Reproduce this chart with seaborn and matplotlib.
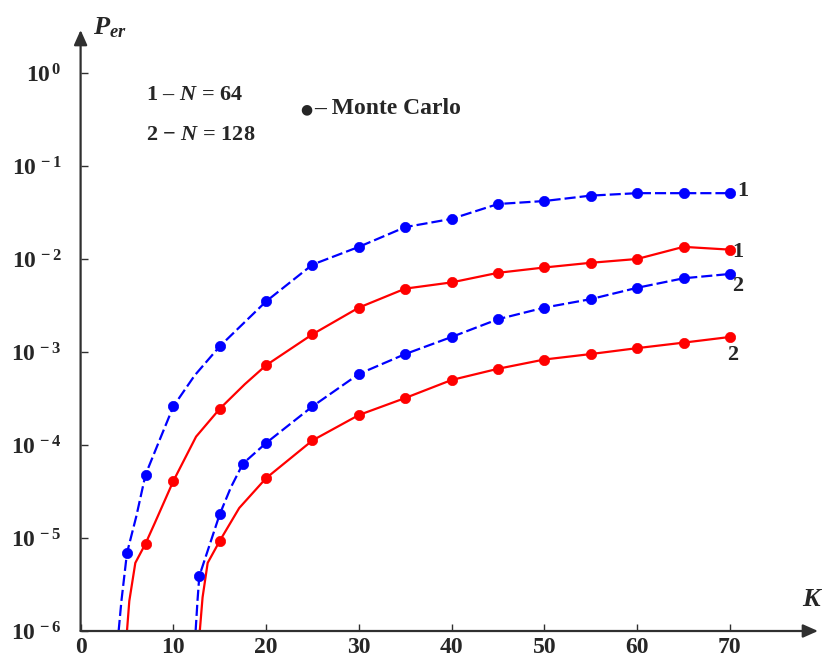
import numpy as np
import pandas as pd
import matplotlib
matplotlib.use("Agg")
import matplotlib.pyplot as plt
import seaborn as sns

# --- данные ---
# точки Монте-Карло, 1 - N = 64
k1_blue = [5, 7, 10, 15, 20, 25, 30, 35, 40, 45, 50, 55, 60, 65, 70]
p1_blue = [6.9e-6, 4.8e-5, 2.6e-4, 1.15e-3, 3.5e-3, 8.7e-3, 1.35e-2, 2.2e-2,
           2.7e-2, 3.9e-2, 4.2e-2, 4.8e-2, 5.1e-2, 5.1e-2, 5.1e-2]
k1_red = [7, 10, 15, 20, 25, 30, 35, 40, 45, 50, 55, 60, 65, 70]
p1_red = [8.7e-6, 4.1e-5, 2.45e-4, 7.2e-4, 1.55e-3, 3.0e-3, 4.8e-3, 5.6e-3,
          7.1e-3, 8.1e-3, 9.1e-3, 1.0e-2, 1.35e-2, 1.26e-2]
# точки Монте-Карло, 2 - N = 128
k2_blue = [12.8, 15, 17.5, 20, 25, 30, 35, 40, 45, 50, 55, 60, 65, 70]
p2_blue = [3.9e-6, 1.8e-5, 6.3e-5, 1.05e-4, 2.6e-4, 5.8e-4, 9.5e-4, 1.45e-3,
           2.25e-3, 3.0e-3, 3.7e-3, 4.9e-3, 6.2e-3, 6.9e-3]
k2_red = [15, 20, 25, 30, 35, 40, 45, 50, 55, 60, 65, 70]
p2_red = [9.3e-6, 4.4e-5, 1.12e-4, 2.1e-4, 3.2e-4, 5.0e-4, 6.6e-4, 8.3e-4,
          9.5e-4, 1.1e-3, 1.26e-3, 1.45e-3]

# кривые (расчёт) - тот же набор + хвосты до 10^-6 и промежуточные точки
line1_blue_k = [4.1, 4.4, 5, 6, 7, 8.5, 10, 12.3, 15, 20, 25, 30, 35, 40, 45,
                50, 55, 60, 65, 70]
line1_blue_p = [1e-6, 2.1e-6, 6.9e-6, 1.7e-5, 4.8e-5, 1.12e-4, 2.6e-4, 5.6e-4,
                1.15e-3, 3.5e-3, 8.7e-3, 1.35e-2, 2.2e-2, 2.7e-2, 3.9e-2,
                4.2e-2, 4.8e-2, 5.1e-2, 5.1e-2, 5.1e-2]
line1_red_k = [5.0, 5.25, 5.9, 7, 8, 10, 12.45, 15, 17.7, 20, 25, 30, 35, 40,
               45, 50, 55, 60, 65, 70]
line1_red_p = [1e-6, 2.1e-6, 5.4e-6, 8.7e-6, 1.45e-5, 4.1e-5, 1.23e-4, 2.45e-4,
               4.5e-4, 7.2e-4, 1.55e-3, 3.0e-3, 4.8e-3, 5.6e-3, 7.1e-3, 8.1e-3,
               9.1e-3, 1.0e-2, 1.35e-2, 1.26e-2]
line2_blue_k = [12.4, 12.6, 12.8, 15, 16.2, 17.5, 20, 25, 30, 35, 40, 45, 50,
                55, 60, 65, 70]
line2_blue_p = [1e-6, 2.1e-6, 3.9e-6, 1.8e-5, 3.5e-5, 6.3e-5, 1.05e-4, 2.6e-4,
                5.8e-4, 9.5e-4, 1.45e-3, 2.25e-3, 3.0e-3, 3.7e-3, 4.9e-3,
                6.2e-3, 6.9e-3]
line2_red_k = [12.85, 13.15, 13.7, 15, 17.1, 20, 25, 30, 35, 40, 45, 50, 55,
               60, 65, 70]
line2_red_p = [1e-6, 2.3e-6, 5.4e-6, 9.3e-6, 2.1e-5, 4.4e-5, 1.12e-4, 2.1e-4,
               3.2e-4, 5.0e-4, 6.6e-4, 8.3e-4, 9.5e-4, 1.1e-3, 1.26e-3, 1.45e-3]

ytick_vals = [1e-6, 1e-5, 1e-4, 1e-3, 1e-2, 1e-1, 1e0]
ytick_exp = ['-6', '-5', '-4', '-3', '-2', '-1', '0']
xtick_vals = [0, 10, 20, 30, 40, 50, 60, 70]

sns.set_style("white")
plt.rcParams['font.family'] = ['Liberation Serif', 'DejaVu Serif']
plt.rcParams['mathtext.fontset'] = 'custom'
plt.rcParams['mathtext.rm'] = 'Liberation Serif'
plt.rcParams['mathtext.bf'] = 'Liberation Serif:bold'
plt.rcParams['mathtext.it'] = 'Liberation Serif:italic'
plt.rcParams['mathtext.bfit'] = 'Liberation Serif:bold:italic'

BLUE = '#0000ff'
RED = '#ff0000'
AXC = '#303030'

fig = plt.figure(figsize=(8.23, 6.59), dpi=100)
ax = fig.add_axes([80.6 / 823, 28 / 659, (818 - 80.6) / 823, 601 / 659])
ax.set_yscale('log')

curves = [
    (line1_blue_k, line1_blue_p, BLUE, (5, 1.8)),
    (line1_red_k, line1_red_p, RED, None),
    (line2_blue_k, line2_blue_p, BLUE, (5, 1.8)),
    (line2_red_k, line2_red_p, RED, None),
]
for kk, pp, col, dash in curves:
    df = pd.DataFrame({'K': kk, 'P': pp})
    sns.lineplot(data=df, x='K', y='P', ax=ax, color=col, lw=1.6,
                 sort=False, estimator=None)
    ln = ax.lines[-1]
    ln.set_solid_joinstyle('round')
    ln.set_dash_joinstyle('round')
    if dash:
        ln.set_dashes(dash)

for kk, pp, col in [(k1_blue, p1_blue, BLUE), (k1_red, p1_red, RED),
                    (k2_blue, p2_blue, BLUE), (k2_red, p2_red, RED)]:
    sns.scatterplot(x=kk, y=pp, ax=ax, color=col, s=55, edgecolor=col,
                    linewidth=0.5, zorder=5)

ax.set_xlim(0, 79.5)
ax.set_ylim(1e-6, 10 ** 0.462)

for s in ax.spines.values():
    s.set_visible(False)

# оси со стрелками
arrow = dict(arrowstyle='-|>,head_length=0.9,head_width=0.4', color=AXC,
             lw=1.6, shrinkA=0, shrinkB=0)
ax.annotate('', xy=(1, 0), xytext=(0, 0), xycoords='axes fraction',
            arrowprops=arrow)
ax.annotate('', xy=(0, 1), xytext=(0, 0), xycoords='axes fraction',
            arrowprops=arrow)

ax.set_xticks(xtick_vals)
ax.set_xticklabels([str(v) for v in xtick_vals], fontsize=17, fontweight='bold')
ax.set_yticks(ytick_vals)
ax.set_yticklabels([r'$\mathbf{10^{\,' + e + '}}$' for e in ytick_exp],
                   fontsize=17)
ax.minorticks_off()
ax.tick_params(axis='both', direction='in', length=5, width=1, color=AXC,
               left=True, bottom=True)
ax.tick_params(axis='y', pad=14)
ax.tick_params(axis='x', pad=4)
ax.set_xlabel('')
ax.set_ylabel('')

# подписи
fig.text(93 / 823, 1 - 28 / 659, r'$\mathbfit{P}_{\mathbfit{er}}$', fontsize=19,
         va='center', ha='left')
fig.text(802 / 823, 1 - 600 / 659, r'$\mathbfit{K}$', fontsize=19,
         va='center', ha='left')

fig.text(146 / 823, 1 - 95 / 659, '1 \u2013 $\\mathbfit{N}$ = 64',
         fontsize=16, fontweight='bold', va='center', ha='left')
fig.text(146 / 823, 1 - 135 / 659, '2 \u2212 $\\mathbfit{N}$ = 128',
         fontsize=16, fontweight='bold', va='center', ha='left')
fig.text(300 / 823, 1 - 109 / 659, '\u25cf', fontsize=10, va='center', ha='left',
         family=['DejaVu Sans'])
fig.text(314 / 823, 1 - 109 / 659, '\u2013 Monte Carlo', fontsize=17,
         fontweight='bold', va='center', ha='left')

for xp, yp, t in [(743, 191, '1'), (738, 252, '1'), (738, 286, '2'),
                  (733, 355, '2')]:
    fig.text(xp / 823, 1 - yp / 659, t, fontsize=16, fontweight='bold',
             va='center', ha='center')

fig.savefig('out.png', dpi=100)
